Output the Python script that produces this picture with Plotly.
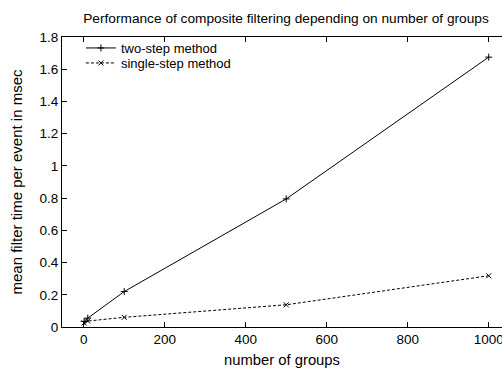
import plotly.graph_objects as go

# number of groups and mean filter time per event (msec)
groups = [1, 10, 100, 500, 1000]
two_step = [0.035, 0.055, 0.22, 0.795, 1.675]
single_step = [0.025, 0.037, 0.06, 0.138, 0.318]

y_ticks = [0, 0.2, 0.4, 0.6, 0.8, 1.0, 1.2, 1.4, 1.6, 1.8]
y_tick_labels = ["0", "0.2", "0.4", "0.6", "0.8", "1", "1.2", "1.4", "1.6", "1.8"]
x_ticks = [0, 200, 400, 600, 800, 1000]

FONT = "Liberation Sans, Arial, sans-serif"
W, H = 502, 368
PLOT_TOP, PLOT_BOTTOM = 37, 327


def legend_box(y_center_px):
    # one legend entry per box, placed by pixel row inside the plot area
    y_paper = (PLOT_BOTTOM - y_center_px) / (PLOT_BOTTOM - PLOT_TOP)
    return dict(x=0.043, y=y_paper, xanchor="left", yanchor="middle",
                bgcolor="rgba(0,0,0,0)", font=dict(size=13, family=FONT),
                itemwidth=30, borderwidth=0)


fig = go.Figure()
fig.add_trace(go.Scatter(
    x=groups, y=two_step, mode="lines+markers", name="two-step method",
    legend="legend",
    line=dict(color="black", width=1),
    marker=dict(symbol="cross-thin", size=5, line=dict(color="black", width=1), color="black"),
))
fig.add_trace(go.Scatter(
    x=groups, y=single_step, mode="lines+markers", name="single-step method",
    legend="legend2",
    line=dict(color="black", width=1, dash="3px,2px"),
    marker=dict(symbol="x-thin", size=5, line=dict(color="black", width=1), color="black"),
))

fig.update_layout(
    width=W, height=H,
    margin=dict(l=62, r=0, t=PLOT_TOP, b=H - PLOT_BOTTOM, autoexpand=False),
    plot_bgcolor="white", paper_bgcolor="white",
    font=dict(family=FONT, size=13, color="black"),
    title=dict(text="Performance of composite filtering depending on number of groups",
               x=286 / W, xanchor="center", y=1 - 18 / H, yanchor="middle",
               font=dict(size=13.7, family=FONT, color="black")),
    showlegend=True,
    legend=legend_box(48),
    legend2=legend_box(63),
    xaxis=dict(range=[-53.6, 1032.8], tickvals=x_ticks, ticks="inside", ticklen=5,
               tickcolor="black", showline=True, linecolor="black", linewidth=1,
               mirror="ticks", showgrid=False, zeroline=False, automargin=False,
               ticklabeloverflow="allow",
               title=dict(text="number of groups", standoff=9, font=dict(size=14.8)),
               tickfont=dict(size=13.5)),
    yaxis=dict(range=[0, 1.8], tickvals=y_ticks, ticktext=y_tick_labels,
               ticks="inside", ticklen=5, tickcolor="black", showline=True,
               linecolor="black", linewidth=1, showgrid=False, zeroline=False,
               automargin=False,
               title=dict(text="mean filter time per event in msec", standoff=13,
                          font=dict(size=15)),
               tickfont=dict(size=13.5)),
)

fig.write_html("out.html")
